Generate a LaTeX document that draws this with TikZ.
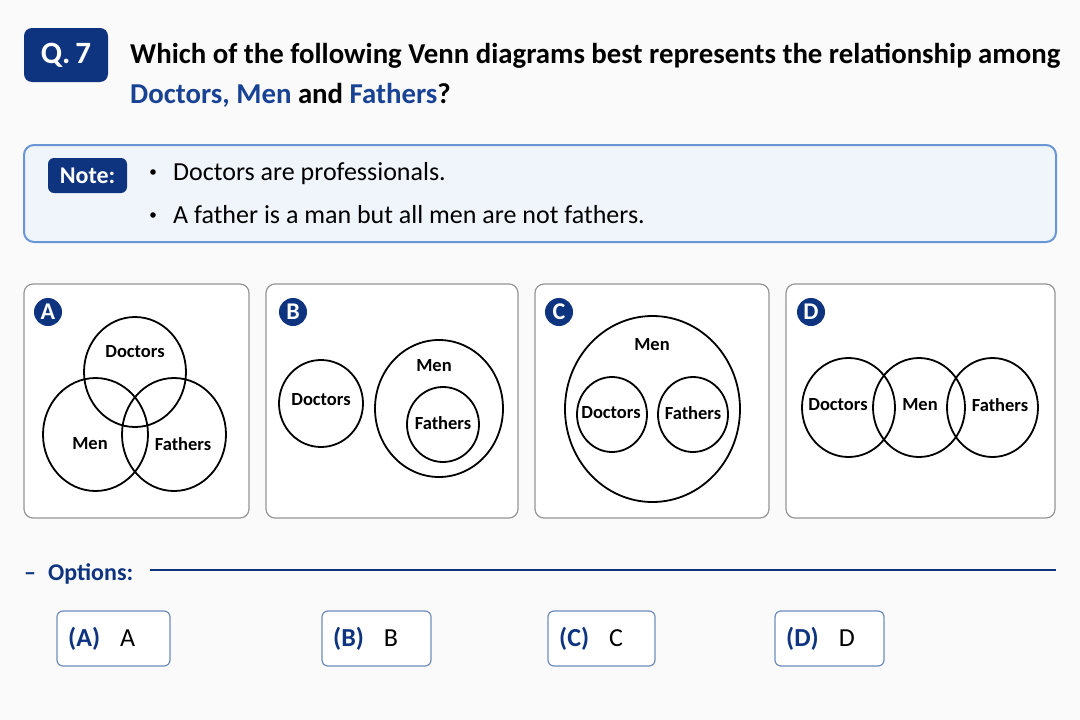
\documentclass[tikz,border=0pt]{standalone}
\usepackage{fontspec}
\setmainfont{Carlito}
\usetikzlibrary{shapes.geometric}
\definecolor{navy}{RGB}{14,52,128}
\definecolor{tblue}{RGB}{24,66,148}
\definecolor{notebg}{RGB}{240,245,252}
\definecolor{noteborder}{RGB}{105,150,212}
\definecolor{panelborder}{RGB}{150,150,150}
\definecolor{optborder}{RGB}{110,140,190}
\definecolor{bgcol}{RGB}{250,250,250}
\begin{document}
\begin{tikzpicture}[x=1pt,y=-1pt,
  set/.style={draw=black,line width=1.8pt,ellipse,inner sep=0pt},
  setlabel/.style={font=\fontsize{18.5}{20}\selectfont\bfseries,text=black,inner sep=0pt},
  panel/.style={draw=panelborder,line width=1.2pt,fill=white,rounded corners=9pt},
  badge/.style={circle,fill=navy,text=white,minimum size=28pt,inner sep=0pt,font=\fontsize{24}{25}\selectfont\bfseries},
  optbox/.style={draw=optborder,line width=1.2pt,fill=white,rounded corners=6pt},
  opttext/.style={anchor=west,inner sep=0pt,font=\fontsize{26}{28}\selectfont}
]
\useasboundingbox[fill=bgcol] (0,0) rectangle (1080,720);

% Header
\fill[navy,rounded corners=8pt] (24,28) rectangle (108,82);
\node[text=white,font=\fontsize{31}{32}\selectfont\bfseries] (q) at (66,55) {Q.\,7};
\node[anchor=base west,inner sep=0pt,font=\fontsize{28.8}{30}\selectfont\bfseries] (t1) at (130,63)
  {Which of the following Venn diagrams best represents the relationship among};
\node[anchor=base west,inner sep=0pt,font=\fontsize{28.8}{30}\selectfont\bfseries] (t2) at (130,103)
  {\textcolor{tblue}{Doctors, Men} and \textcolor{tblue}{Fathers}?};

% Note box
\draw[draw=noteborder,line width=2pt,fill=notebg,rounded corners=10pt] (24,145) rectangle (1056,242);
\fill[navy,rounded corners=6pt] (48,158) rectangle (127,193);
\node[text=white,font=\fontsize{24}{25}\selectfont\bfseries] (note) at (87.5,175.5) {Note:};
\fill[black] (153,172) circle[radius=2.8];
\fill[black] (153,215) circle[radius=2.8];
\node[anchor=base west,inner sep=0pt,font=\fontsize{26}{28}\selectfont] (n1) at (173,180) {Doctors are professionals.};
\node[anchor=base west,inner sep=0pt,font=\fontsize{26}{28}\selectfont] (n2) at (173,223) {A father is a man but all men are not fathers.};

% Panels
\draw[panel] (24,284) rectangle (249,518);
\draw[panel] (266,284) rectangle (518,518);
\draw[panel] (535,284) rectangle (769,518);
\draw[panel] (786,284) rectangle (1055,518);
\node[badge] (ba) at (48,312) {A};
\node[badge] (bb) at (293,312) {B};
\node[badge] (bc) at (559,312) {C};
\node[badge] (bd) at (811,312) {D};

% Panel A
\node[set,minimum width=102pt,minimum height=110pt] (aD) at (135,372) {};
\node[set,minimum width=105pt,minimum height=113pt] (aM) at (95.5,434.5) {};
\node[set,minimum width=104pt,minimum height=113pt] (aF) at (174,434.5) {};
\node[setlabel] (laD) at (135,352) {Doctors};
\node[setlabel] (laM) at (90,444) {Men};
\node[setlabel] (laF) at (183,444) {Fathers};

% Panel B
\node[set,minimum width=84pt,minimum height=87pt] (bD) at (321,403.5) {};
\node[set,minimum width=128pt,minimum height=137pt] (bM) at (439,408.5) {};
\node[set,minimum width=72pt,minimum height=75pt] (bF) at (443,424.5) {};
\node[setlabel] (lbD) at (321,400) {Doctors};
\node[setlabel] (lbM) at (434,366) {Men};
\node[setlabel] (lbF) at (443,423) {Fathers};

% Panel C
\node[set,minimum width=175pt,minimum height=186pt] (cM) at (652.5,409) {};
\node[set,minimum width=70pt,minimum height=75pt] (cD) at (612,414.5) {};
\node[set,minimum width=70pt,minimum height=75pt] (cF) at (693,414.5) {};
\node[setlabel] (lcM) at (652,345) {Men};
\node[setlabel] (lcD) at (611,413) {Doctors};
\node[setlabel] (lcF) at (693,413) {Fathers};

% Panel D
\node[set,minimum width=93pt,minimum height=99pt] (dD) at (848.5,407.5) {};
\node[set,minimum width=92pt,minimum height=99pt] (dM) at (919,407.5) {};
\node[set,minimum width=91pt,minimum height=99pt] (dF) at (992.5,407.5) {};
\node[setlabel] (ldD) at (838,405) {Doctors};
\node[setlabel] (ldM) at (920,405) {Men};
\node[setlabel] (ldF) at (1000,405) {Fathers};

% Options
\node[anchor=base west,inner sep=0pt,text=navy,font=\fontsize{24}{26}\selectfont\bfseries] (opt) at (24,580) {–\hspace{12pt}Options:};
\coordinate (lineS) at (150,570);
\coordinate (lineE) at (1056,570);
\draw[navy,line width=1.5pt] (lineS) -- (lineE);

\draw[optbox] (57,611) rectangle (170,666);
\draw[optbox] (322,611) rectangle (431,666);
\draw[optbox] (548,611) rectangle (655,666);
\draw[optbox] (775,611) rectangle (884,666);
\node[opttext] (oA) at (68,638.5) {\textcolor{navy}{\bfseries(A)}\hspace{20pt}A};
\node[opttext] (oB) at (333,638.5) {\textcolor{navy}{\bfseries(B)}\hspace{20pt}B};
\node[opttext] (oC) at (559,638.5) {\textcolor{navy}{\bfseries(C)}\hspace{20pt}C};
\node[opttext] (oD) at (786,638.5) {\textcolor{navy}{\bfseries(D)}\hspace{20pt}D};
\end{tikzpicture}
\end{document}
